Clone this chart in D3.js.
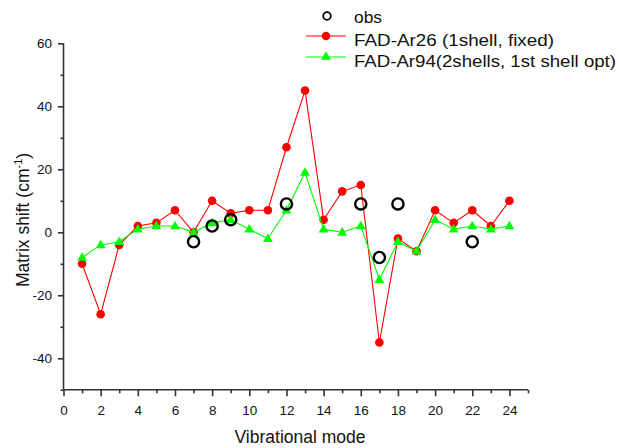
<!DOCTYPE html>
<html>
<head>
<meta charset="utf-8">
<script src="https://cdn.jsdelivr.net/npm/d3@7"></script>
<style>
  html, body { margin: 0; padding: 0; background: #fff; }
  svg { display: block; font-family: "Liberation Sans", Arial, sans-serif; }
</style>
</head>
<body>
<svg id="chart" width="619" height="448"></svg>
<script>
// ---- data ----
const modes = [1,2,3,4,5,6,7,8,9,10,11,12,13,14,15,16,17,18,19,20,21,22,23,24];
const ar26 = [-10,-26,-4,2,3,7,0,10,6,7,7,27,45,4,13,15,-35,-2,-6,7,3,7,2,10];
const ar94 = [-8,-4,-3,1,2,2,0,3,4,1,-2,7,19,1,0,2,-15,-3,-6,4,1,2,1,2];
const obsModes = [7,8,9,12,16,17,18,22];
const obsValues = [-3,2,4,9,9,-8,9,-3];
const xTicks = [0,2,4,6,8,10,12,14,16,18,20,22,24];
const yTicks = [-40,-20,0,20,40,60];
const seriesNames = ["obs", "FAD-Ar26 (1shell, fixed)", "FAD-Ar94(2shells, 1st shell opt)"];
const xTitle = "Vibrational mode";

const svg = d3.select("#chart");
const x = d3.scaleLinear().domain([0, 25]).range([63.5, 528]);
const y = d3.scaleLinear().domain([-50, 60]).range([389.8, 43.3]);
const axisColor = "#333";
const fmt = d => String(d);

// minor ticks
const xMinor = d3.range(1, 26, 2);
const yMinor = [-50,-30,-10,10,30,50];

const gx = svg.append("g").attr("transform", `translate(0,${y(-50)})`);
gx.call(d3.axisBottom(x).tickValues(xMinor).tickSize(3.5).tickFormat(""));
gx.call(g => g.select(".domain").remove());
const gx2 = svg.append("g").attr("transform", `translate(0,${y(-50)})`)
  .call(d3.axisBottom(x).tickValues(xTicks).tickSize(6.5).tickSizeOuter(0).tickPadding(9).tickFormat(fmt));
gx2.select(".domain").attr("d", `M${x(0)},0H${x(25)}`);

const gy = svg.append("g").attr("transform", `translate(${x(0)},0)`);
gy.call(d3.axisLeft(y).tickValues(yMinor).tickSize(3).tickFormat(""));
gy.call(g => g.select(".domain").remove());
const gy2 = svg.append("g").attr("transform", `translate(${x(0)},0)`)
  .call(d3.axisLeft(y).tickValues(yTicks).tickSize(5.5).tickSizeOuter(0).tickPadding(6).tickFormat(fmt));
gy2.select(".domain").attr("d", `M0,${y(60)}V${y(-50)}`);

svg.selectAll(".tick line, .domain").attr("stroke", axisColor).attr("stroke-width", 1.6);
svg.selectAll(".tick text").attr("font-size", 13.5).attr("fill", "#111")
  .attr("font-family", "'Liberation Sans', Arial, sans-serif");

// axis titles
svg.append("text").attr("x", 300).attr("y", 443).attr("text-anchor", "middle")
  .attr("font-size", 17.5).attr("fill", "#111").text(xTitle);
const yt = svg.append("text").attr("transform", `translate(29,220) rotate(-90)`)
  .attr("text-anchor", "middle").attr("font-size", 17.5).attr("fill", "#111");
yt.append("tspan").text("Matrix shift (cm");
yt.append("tspan").attr("font-size", 11).attr("dy", -7).text("-1");
yt.append("tspan").attr("dy", 7).text(")");

// series
const line = d3.line().x((d, i) => x(modes[i])).y(d => y(d));
const triangle = d3.symbol().type(d3.symbolTriangle).size(42);

svg.append("path").datum(ar26).attr("d", line).attr("fill", "none")
  .attr("stroke", "#ff0000").attr("stroke-width", 1.1);
svg.append("g").selectAll("circle").data(ar26).join("circle")
  .attr("cx", (d, i) => x(modes[i])).attr("cy", d => y(d)).attr("r", 4.3).attr("fill", "#ff0000");

svg.append("path").datum(ar94).attr("d", line).attr("fill", "none")
  .attr("stroke", "#00ff00").attr("stroke-width", 1.1);
svg.append("g").selectAll("path").data(ar94).join("path")
  .attr("d", triangle)
  .attr("transform", (d, i) => `translate(${x(modes[i])},${y(d) + 0.5})`)
  .attr("fill", "#00ff00");

svg.append("g").selectAll("circle").data(obsValues).join("circle")
  .attr("cx", (d, i) => x(obsModes[i])).attr("cy", d => y(d)).attr("r", 5.6)
  .attr("fill", "none").attr("stroke", "#000").attr("stroke-width", 2.4);

// legend
const lg = svg.append("g");
const rowY = [16, 36, 57];
const textBase = [23.3, 45.5, 66.5];
lg.append("circle").attr("cx", 327).attr("cy", rowY[0]).attr("r", 3.8)
  .attr("fill", "none").attr("stroke", "#000").attr("stroke-width", 1.8);
lg.append("line").attr("x1", 306).attr("x2", 346).attr("y1", rowY[1]).attr("y2", rowY[1])
  .attr("stroke", "#ff0000").attr("stroke-width", 1.1);
lg.append("circle").attr("cx", 326).attr("cy", rowY[1]).attr("r", 4.3).attr("fill", "#ff0000");
lg.append("line").attr("x1", 306).attr("x2", 346).attr("y1", rowY[2]).attr("y2", rowY[2])
  .attr("stroke", "#00ff00").attr("stroke-width", 1.1);
lg.append("path").attr("d", triangle).attr("transform", `translate(326,${rowY[2]})`).attr("fill", "#00ff00");
const legendWidths = [28, 200, 262];
seriesNames.forEach((n, i) => {
  lg.append("text").attr("x", 354).attr("y", textBase[i]).attr("font-size", 17)
    .attr("fill", "#111").attr("textLength", legendWidths[i]).attr("lengthAdjust", "spacingAndGlyphs")
    .text(n);
});
</script>
</body>
</html>
